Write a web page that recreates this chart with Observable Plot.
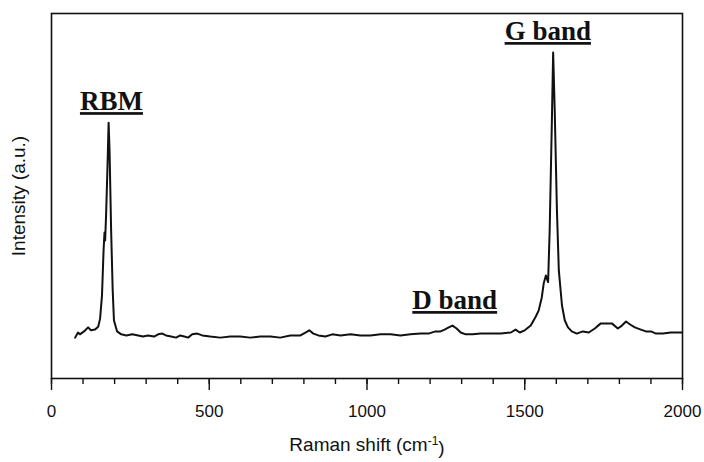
<!DOCTYPE html>
<html>
<head>
<meta charset="utf-8">
<script src="https://cdn.jsdelivr.net/npm/d3@7"></script>
<script src="https://cdn.jsdelivr.net/npm/@observablehq/plot@0.6"></script>
<style>
  html, body { margin: 0; padding: 0; background: #fff; }
</style>
</head>
<body>
<div id="chart"></div>
<script>
// Raman shift (cm^-1)
const shift = [75,84,90,103,116,125,138,148,154,160,165,168,170,173,178,181,184,189,194,198,208,221,237,256,275,290,306,325,338,351,363,379,395,408,421,433,446,462,478,503,535,567,598,630,662,694,725,757,789,805,817,830,846,868,890,916,948,979,1011,1043,1075,1106,1138,1170,1195,1217,1233,1246,1259,1271,1284,1297,1313,1335,1360,1392,1424,1456,1471,1484,1500,1519,1535,1544,1554,1560,1567,1574,1579,1586,1590,1595,1602,1608,1618,1627,1637,1649,1665,1684,1703,1722,1741,1760,1776,1795,1808,1821,1834,1849,1868,1884,1900,1916,1938,1963,1982,1998];
// Intensity (a.u.)
const intensity = [11.2,12.6,12.1,12.9,14.0,13.2,13.4,14.2,16.4,22.7,35.0,40.0,37.8,44.7,59.7,70.1,62.5,40.5,24.1,15.9,12.9,12.1,11.8,12.1,11.8,11.5,11.8,11.5,12.1,12.3,11.8,11.5,11.2,11.8,11.5,11.2,12.1,12.3,11.8,11.5,11.2,11.5,11.5,11.2,11.5,11.5,11.2,11.8,11.8,12.6,13.2,12.3,11.8,11.5,12.1,11.8,12.1,11.8,11.8,12.1,12.1,11.8,12.1,12.3,12.3,12.9,12.9,13.4,14.0,14.5,13.7,12.6,12.1,12.1,12.3,12.3,12.3,12.6,13.4,12.6,13.2,14.5,17.0,18.6,22.2,26.0,28.2,26.4,40.6,70.7,89.3,73.4,46.0,29.6,20.0,15.9,14.0,12.9,12.3,12.9,12.6,13.7,15.1,15.1,15.1,13.7,14.5,15.6,14.8,14.0,13.4,12.9,12.9,12.3,12.3,12.6,12.6,12.6];

// Band annotations
const bandNames = ["RBM", "D band", "G band"];
const bandShift = [190, 1278, 1573];
const bandLevel = [75.9, 21.4, 95.1];

// Tick labels
const majorTicks = [0, 500, 1000, 1500, 2000];
const minorTicks = d3.range(0, 2001, 100);

const spectrum = shift.map((s, i) => ({s, v: intensity[i]}));
const bands = bandNames.map((n, i) => ({n, s: bandShift[i], v: bandLevel[i]}));

const chart = Plot.plot({
  width: 704,
  height: 462,
  marginLeft: 51,
  marginRight: 22,
  marginTop: 13,
  marginBottom: 84,
  style: {fontFamily: "'Liberation Sans', Arial, sans-serif", fontSize: "17px", color: "#111", background: "#fff"},
  x: {domain: [0, 2000]},
  y: {domain: [0, 100], axis: null},
  marks: [
    Plot.frame({stroke: "#111", strokeWidth: 1.6}),
    Plot.axisX({ticks: minorTicks, tickSize: 6, tickFormat: () => "", label: null, stroke: "#111", strokeWidth: 1.4}),
    Plot.axisX({ticks: majorTicks, tickSize: 12, tickPadding: 14, tickFormat: d3.format("d"), label: null, stroke: "#111", strokeWidth: 1.4, fontSize: 17}),
    Plot.line(spectrum, {x: "s", y: "v", stroke: "#111", strokeWidth: 2, curve: "linear"}),
    Plot.text(bands, {x: "s", y: "v", text: "n", fontFamily: "'Liberation Serif', 'Times New Roman', serif", fontWeight: "bold", fontSize: 27, fill: "#111", lineAnchor: "middle", className: "band-label"}),
    Plot.text(["Raman shift (cm-1)"], {frameAnchor: "bottom", dy: 66, textAnchor: "middle", lineAnchor: "middle", fontSize: 19, fill: "#111", className: "xtitle"}),
    Plot.text(["Intensity (a.u.)"], {frameAnchor: "left", dx: -33, rotate: -90, textAnchor: "middle", lineAnchor: "middle", fontSize: 19, fill: "#111"})
  ]
});

document.getElementById("chart").appendChild(chart);

// underline band labels
d3.select(chart).selectAll(".band-label text").style("text-decoration", "underline");

// superscript for cm^-1
d3.select(chart).selectAll(".xtitle text").each(function() {
  const t = d3.select(this);
  t.text(null);
  t.append("tspan").text("Raman shift (cm");
  t.append("tspan").attr("dy", "-0.45em").attr("font-size", "12px").text("-1");
  t.append("tspan").attr("dy", "0.45em").text(")");
});
</script>
</body>
</html>
